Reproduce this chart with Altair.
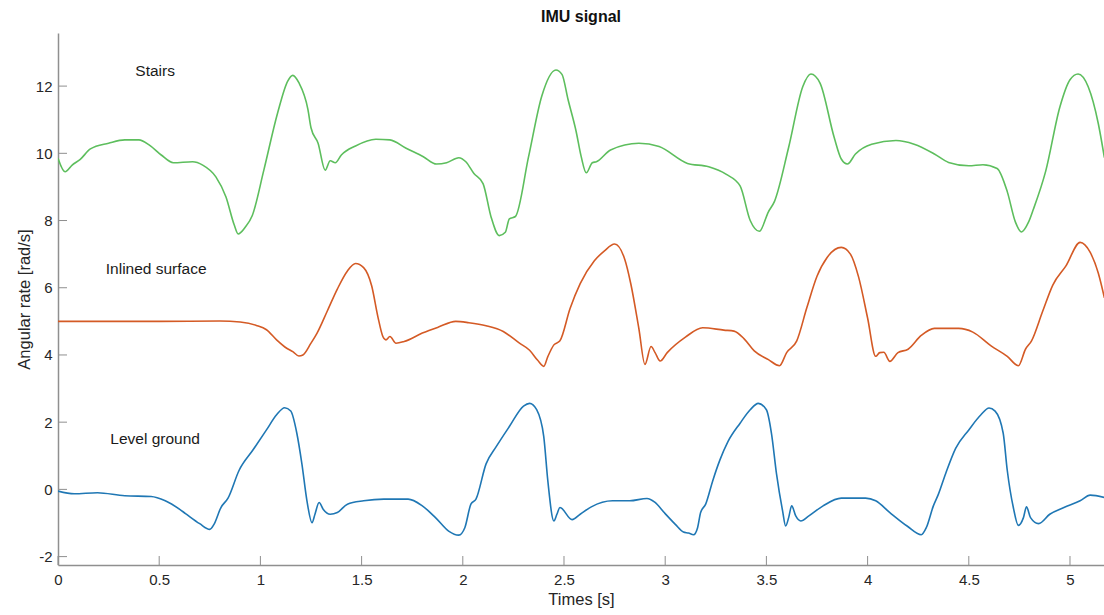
import altair as alt
import pandas as pd

# ---- data ----
stairs_t = [0.00, 0.035, 0.07, 0.11, 0.16, 0.25, 0.33, 0.40, 0.45, 0.51, 0.57, 0.665, 0.715, 0.78, 0.83, 0.87, 0.89, 0.925, 0.96,
            1.017, 1.085, 1.135, 1.16, 1.19, 1.235, 1.25, 1.285, 1.32, 1.345, 1.37, 1.40, 1.47, 1.57, 1.64, 1.72, 1.805, 1.87, 1.92, 1.98,
            2.015, 2.055, 2.10, 2.14, 2.18, 2.21, 2.23, 2.26, 2.325, 2.39, 2.46, 2.49, 2.52, 2.56, 2.585, 2.61, 2.64, 2.66, 2.73, 2.87, 2.97,
            3.11, 3.215, 3.30, 3.37, 3.42, 3.465, 3.51, 3.54, 3.61, 3.68, 3.72, 3.765, 3.835, 3.87, 3.90, 3.94,
            4.02, 4.14, 4.23, 4.33, 4.40, 4.50, 4.57, 4.64, 4.69, 4.73, 4.76, 4.795, 4.82, 4.88, 4.95,
            5.00, 5.04, 5.09, 5.14, 5.17]
stairs_v = [9.85, 9.45, 9.65, 9.82, 10.13, 10.30, 10.40, 10.40, 10.25, 9.95, 9.72, 9.75, 9.65, 9.30, 8.70, 7.88, 7.60, 7.80, 8.15,
            9.50, 11.20, 12.15, 12.32, 12.10, 11.30, 10.76, 10.30, 9.50, 9.78, 9.72, 9.95, 10.22, 10.42, 10.40, 10.15, 9.90, 9.68, 9.72, 9.87,
            9.75, 9.40, 9.10, 8.10, 7.55, 7.65, 8.05, 8.12, 9.90, 11.70, 12.48, 12.35, 11.60, 10.65, 9.90, 9.42, 9.72, 9.75, 10.10, 10.30, 10.20,
            9.70, 9.60, 9.38, 9.03, 8.00, 7.68, 8.26, 8.57, 10.18, 11.99, 12.36, 12.09, 10.47, 9.83, 9.68, 9.98,
            10.27, 10.38, 10.27, 9.98, 9.73, 9.63, 9.66, 9.55, 8.86, 7.96, 7.66, 7.95, 8.35, 9.47, 11.38,
            12.19, 12.36, 11.98, 10.88, 9.87]

incline_t = [0.00, 0.50, 0.80, 0.90, 0.98, 1.03, 1.08, 1.13, 1.16, 1.19, 1.21, 1.25, 1.28, 1.33, 1.38, 1.43, 1.47, 1.51, 1.55, 1.58,
             1.605, 1.62, 1.64, 1.67, 1.71, 1.80, 1.88, 1.965, 2.03, 2.115, 2.20, 2.28, 2.33, 2.37, 2.40, 2.42, 2.45, 2.48, 2.53, 2.58,
             2.65, 2.70, 2.75, 2.80, 2.83, 2.87, 2.90, 2.93, 2.95, 2.975, 3.01, 3.10, 3.185, 3.29, 3.34, 3.39, 3.44, 3.51, 3.565, 3.60,
             3.65, 3.70, 3.75, 3.80, 3.87, 3.915, 3.955, 4.00, 4.04, 4.06, 4.08, 4.11, 4.15, 4.20, 4.265, 4.33, 4.45, 4.52, 4.61, 4.69,
             4.745, 4.78, 4.81, 4.865, 4.915, 4.98, 5.05, 5.10, 5.14, 5.17]
incline_v = [5.00, 5.00, 5.01, 4.98, 4.88, 4.75, 4.45, 4.20, 4.10, 3.97, 4.00, 4.35, 4.65, 5.30, 5.96, 6.50, 6.72, 6.60, 6.05, 5.15,
             4.55, 4.45, 4.55, 4.35, 4.40, 4.65, 4.83, 5.00, 4.96, 4.87, 4.70, 4.35, 4.14, 3.84, 3.66, 3.95, 4.30, 4.42, 5.38, 6.12,
             6.80, 7.10, 7.30, 6.85, 6.12, 4.78, 3.72, 4.25, 4.07, 3.82, 4.07, 4.53, 4.81, 4.74, 4.71, 4.48, 4.12, 3.86, 3.68, 4.07,
             4.42, 5.41, 6.34, 6.90, 7.20, 7.00, 6.33, 5.10, 3.96, 4.07, 4.08, 3.81, 4.07, 4.17, 4.58, 4.79, 4.79, 4.68, 4.27, 3.96,
             3.68, 4.17, 4.42, 5.30, 6.08, 6.65, 7.35, 7.05, 6.43, 5.70]

level_t = [0.00, 0.08, 0.195, 0.33, 0.46, 0.53, 0.60, 0.63, 0.70, 0.75, 0.77, 0.805, 0.84, 0.895, 0.963, 1.03, 1.08, 1.12, 1.15, 1.18,
           1.205, 1.23, 1.255, 1.27, 1.29, 1.31, 1.345, 1.38, 1.43, 1.51, 1.61, 1.73, 1.80, 1.865, 1.93, 1.98, 2.01, 2.04, 2.065, 2.115,
           2.165, 2.23, 2.30, 2.33, 2.365, 2.40, 2.42, 2.45, 2.465, 2.48, 2.54, 2.58, 2.635, 2.74, 2.825, 2.91, 2.95, 2.995, 3.05, 3.09,
           3.115, 3.14, 3.16, 3.175, 3.20, 3.235, 3.27, 3.31, 3.37, 3.42, 3.46, 3.50, 3.525, 3.55, 3.58, 3.595, 3.61, 3.625, 3.645, 3.67,
           3.71, 3.78, 3.87, 3.99, 4.04, 4.11, 4.195, 4.265, 4.29, 4.325, 4.35, 4.385, 4.435, 4.50, 4.56, 4.60, 4.63, 4.67, 4.69, 4.72,
           4.745, 4.77, 4.785, 4.805, 4.845, 4.90, 4.97, 5.05, 5.10, 5.17]
level_v = [-0.05, -0.13, -0.10, -0.19, -0.21, -0.34, -0.59, -0.72, -1.02, -1.19, -1.05, -0.54, -0.26, 0.57, 1.17, 1.77, 2.22, 2.43, 2.33, 1.67,
           0.76, -0.34, -0.99, -0.73, -0.39, -0.59, -0.74, -0.69, -0.44, -0.34, -0.29, -0.29, -0.49, -0.84, -1.24, -1.36, -1.14, -0.44, -0.29, 0.76,
           1.27, 1.87, 2.48, 2.56, 2.37, 1.57, 0.26, -0.94, -0.74, -0.54, -0.90, -0.74, -0.52, -0.34, -0.34, -0.27, -0.39, -0.69, -1.04, -1.27,
           -1.30, -1.35, -1.14, -0.69, -0.44, 0.26, 0.87, 1.42, 1.97, 2.37, 2.56, 2.37, 1.67, 0.46, -0.64, -1.09, -0.84, -0.49, -0.79, -0.94,
           -0.79, -0.49, -0.26, -0.26, -0.34, -0.69, -1.09, -1.35, -1.14, -0.49, -0.14, 0.46, 1.22, 1.77, 2.22, 2.42, 2.33, 1.67, 0.57, -0.54,
           -1.07, -0.84, -0.52, -0.84, -1.02, -0.74, -0.54, -0.34, -0.17, -0.24]

series_names = ["Level ground", "Inlined surface", "Stairs"]
series_colors = ["#1F77B4", "#D45A25", "#5DBE5D"]

label_names = ["Stairs", "Inlined surface", "Level ground"]
label_t = [0.48, 0.485, 0.48]
label_v = [12.45, 6.55, 1.5]

x_ticks = [0, 0.5, 1, 1.5, 2, 2.5, 3, 3.5, 4, 4.5, 5]
y_ticks = [-2, 0, 2, 4, 6, 8, 10, 12]
x_domain = [0, 5.168]
y_domain = [-2.25, 13.58]

# ---- build tables ----
rows = []
for name, ts, vs in [("Level ground", level_t, level_v),
                     ("Inlined surface", incline_t, incline_v),
                     ("Stairs", stairs_t, stairs_v)]:
    for t, v in zip(ts, vs):
        rows.append({"series": name, "t": t, "v": v})
df = pd.DataFrame(rows)
labels_df = pd.DataFrame({"name": label_names, "t": label_t, "v": label_v})
xt_df = pd.DataFrame({"t": x_ticks})
yt_df = pd.DataFrame({"v": y_ticks})

W, H = 1046, 532
FONT = "Liberation Sans"
AX = "#8f8f8f"
TXT = "#262626"

x_scale = alt.Scale(domain=x_domain, nice=False, zero=False)
y_scale = alt.Scale(domain=y_domain, nice=False, zero=False)

x_axis = alt.Axis(values=x_ticks, ticks=False, grid=False,
                  domainColor=AX, domainWidth=1.5, labelFont=FONT, labelFontSize=15,
                  labelColor=TXT, labelPadding=7, labelFlush=False, labelOverlap=False,
                  labelExpr="'' + datum.value",
                  titleFont=FONT, titleFontSize=16.5, titleFontWeight="normal",
                  titleColor=TXT, titlePadding=4)
y_axis = alt.Axis(values=y_ticks, ticks=False, grid=False,
                  domainColor=AX, domainWidth=1.5, labelFont=FONT, labelFontSize=15,
                  labelColor=TXT, labelPadding=6, labelFlush=False, labelOverlap=False,
                  labelExpr="'' + datum.value",
                  titleFont=FONT, titleFontSize=16.5, titleFontWeight="normal",
                  titleColor=TXT, titlePadding=3)

X = alt.X("t:Q", scale=x_scale, axis=x_axis, title="Times [s]")
Y = alt.Y("v:Q", scale=y_scale, axis=y_axis, title="Angular rate [rad/s]")

lines = alt.Chart(df).mark_line(strokeWidth=1.6, interpolate="monotone", clip=True).encode(
    x=X, y=Y,
    color=alt.Color("series:N", scale=alt.Scale(domain=series_names, range=series_colors), legend=None),
)

texts = alt.Chart(labels_df).mark_text(font=FONT, fontSize=15.5, color="#1a1a1a", align="center", baseline="middle").encode(
    x=X, y=Y, text="name:N",
)

xticks = alt.Chart(xt_df).mark_rule(color=AX, strokeWidth=1).encode(
    x=X, y=alt.value(H), y2=alt.value(H - 9),
)
yticks = alt.Chart(yt_df).mark_rule(color=AX, strokeWidth=1).encode(
    y=Y, x=alt.value(0), x2=alt.value(9),
)

chart = alt.layer(lines, xticks, yticks, texts).properties(
    width=W, height=H,
    autosize=alt.AutoSizeParams(type="none"),
    padding={"left": 58, "top": 33, "right": 0, "bottom": 50},
    background="white",
    title=alt.TitleParams("IMU signal", font=FONT, fontSize=16, fontWeight="bold", color="#111111",
                          anchor="middle", offset=8),
).configure_view(stroke=None)

chart.save("out.html", embed_options={"renderer": "svg", "actions": False})
